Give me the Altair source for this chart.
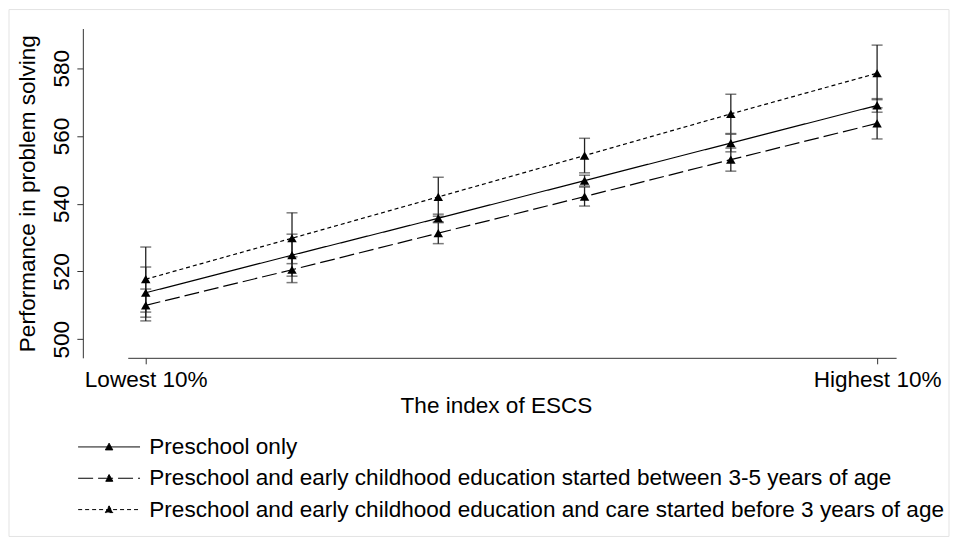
import altair as alt
import pandas as pd

# ---- data ----
series = [
    "Preschool only",
    "Preschool and early childhood education started between 3-5 years of age",
    "Preschool and early childhood education and care started before 3 years of age",
]
positions = [0, 1, 2, 3, 4, 5]
x_tick_values = [0, 5]
x_tick_labels = ["Lowest 10%", "Highest 10%"]
y_tick_values = [500, 520, 540, 560, 580]

mean_only = [513.7, 524.8, 535.7, 546.8, 557.9, 569.0]
lo_only = [506.5, 518.6, 534.6, 545.2, 555.3, 567.0]
hi_only = [521.3, 531.0, 536.9, 548.4, 560.5, 571.0]

mean_35 = [510.0, 520.5, 531.3, 542.1, 553.0, 563.7]
lo_35 = [505.4, 516.7, 528.2, 539.3, 549.6, 559.1]
hi_35 = [514.8, 524.3, 534.4, 544.9, 556.4, 568.3]

mean_u3 = [517.7, 529.8, 542.0, 554.2, 566.5, 578.5]
lo_u3 = [508.0, 522.3, 536.3, 549.1, 560.7, 570.7]
hi_u3 = [527.2, 537.3, 547.8, 559.3, 572.3, 586.8]

rows = []
for name, m, lo, hi in [
    (series[0], mean_only, lo_only, hi_only),
    (series[1], mean_35, lo_35, hi_35),
    (series[2], mean_u3, lo_u3, hi_u3),
]:
    for p, a, b, c in zip(positions, m, lo, hi):
        rows.append({"series": name, "pos": p, "mean": a, "lo": b, "hi": c})
df = pd.DataFrame(rows)

FONT = "Liberation Sans"
FS = 22.6
label_expr = " : ".join(
    [f"datum.value == {v} ? '{t}'" for v, t in zip(x_tick_values[:-1], x_tick_labels[:-1])]
    + [f"'{x_tick_labels[-1]}'"]
)

x_enc = alt.X(
    "pos:Q",
    scale=alt.Scale(domain=[-0.123, 5.13], nice=False, zero=False),
    axis=alt.Axis(
        values=x_tick_values,
        labelExpr=label_expr,
        title="The index of ESCS",
        grid=False,
        tickSize=6,
        labelPadding=5,
        titlePadding=3,
        titleX=369,
        labelFlush=False,
        labelOverlap=False,
    ),
)
y_title = "Performance in problem solving"
y_axis = alt.Axis(
    values=y_tick_values,
    title=y_title,
    grid=False,
    offset=45,
    tickSize=6,
    labelAngle=270,
    labelAlign="center",
    labelBaseline="bottom",
    labelPadding=3,
    titlePadding=11,
)
y_scale = alt.Scale(domain=[494.5, 591.7], nice=False, zero=False)

dash_scale = alt.Scale(domain=series, range=[[1, 0], [15, 5], [4, 3]])
legend_path = "M-6.2,0H6.2M0,-0.75L0.75,0.6L-0.75,0.6Z"

base = alt.Chart(df)

bars = base.mark_errorbar(
    color="#222",
    thickness=1.3,
    ticks={"size": 11, "color": "#444", "thickness": 1.5},
).encode(
    x=x_enc,
    y=alt.Y("lo:Q", scale=y_scale, axis=y_axis, title=y_title),
    y2="hi:Q",
)

lines = base.mark_line(color="black", strokeWidth=1.2).encode(
    x=x_enc,
    y=alt.Y("mean:Q", scale=y_scale, axis=y_axis, title=y_title),
    strokeDash=alt.StrokeDash(
        "series:N",
        scale=dash_scale,
        sort=series,
        legend=alt.Legend(
            title=None,
            orient="none",
            legendX=-30,
            legendY=408,
            direction="vertical",
            symbolType=legend_path,
            symbolSize=100,
            symbolStrokeWidth=1,
            symbolFillColor="black",
            symbolStrokeColor="black",
            labelOffset=29,
            labelFontSize=FS,
            labelFont=FONT,
            labelColor="black",
            labelLimit=2000,
            rowPadding=8.4,
            padding=0,
        ),
    ),
    detail="series:N",
)

points = base.mark_point(
    shape="triangle-up", filled=True, size=90, color="black", opacity=1
).encode(
    x=x_enc,
    y=alt.Y("mean:Q", scale=y_scale, axis=y_axis, title=y_title),
)

frame = alt.Chart(pd.DataFrame({"f": [0]})).mark_rect(
    fill="white", fillOpacity=0, stroke="#e3e3e3", strokeWidth=1
).encode(
    x=alt.value(-119),
    x2=alt.value(823),
    y=alt.value(-19),
    y2=alt.value(509),
)

chart = (
    alt.layer(frame, bars, lines, points)
    .properties(width=770, height=330, padding=0)
    .configure(font=FONT)
    .configure_view(stroke=None)
    .configure_axis(
        labelFont=FONT,
        titleFont=FONT,
        labelFontSize=FS,
        titleFontSize=FS,
        labelColor="black",
        titleColor="black",
        titleFontWeight="normal",
        domainColor="#333",
        tickColor="#333",
        domainWidth=1,
        tickWidth=1,
    )
)

chart.save("out.html", embed_options={"renderer": "svg", "actions": False})
